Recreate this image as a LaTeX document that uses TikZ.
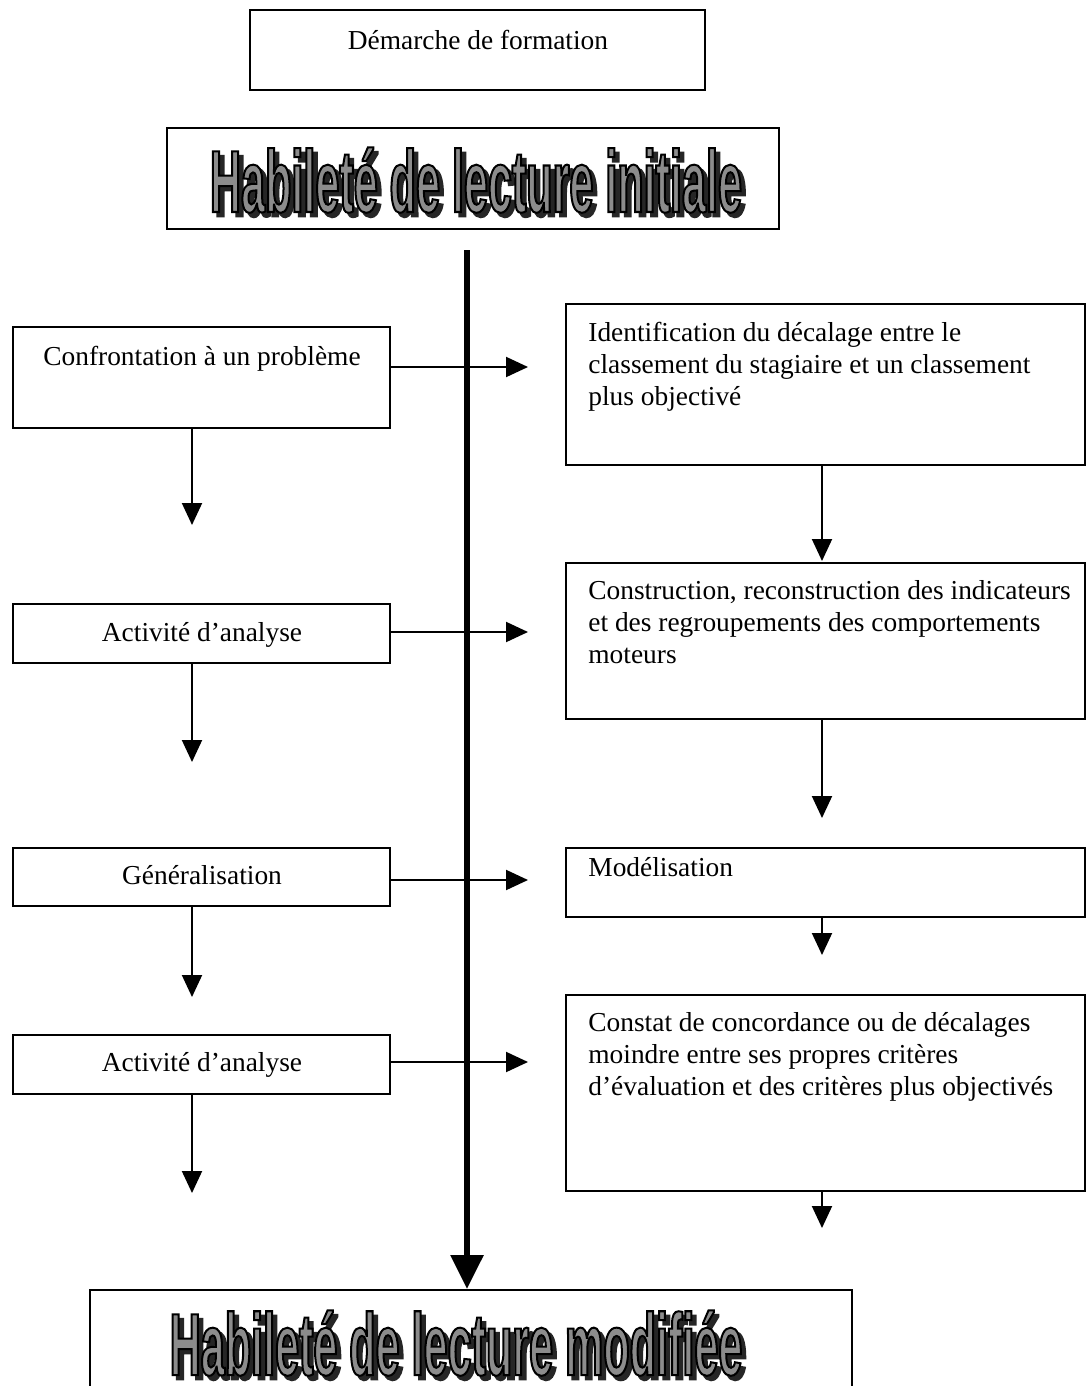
\documentclass[tikz,border=0pt]{standalone}
\usepackage{fontspec}
\setmainfont{Liberation Serif}
\newfontfamily\wafont{Liberation Sans}[FakeStretch=0.49]
\usetikzlibrary{arrows.meta,fit}

\newcommand{\waT}[1]{{\wafont\bfseries\fontsize{44}{44}\selectfont #1}}
\newcommand{\wordart}[1]{%
\makebox[0pt][l]{\hspace*{2.2pt}\raisebox{-2.2pt}{\textcolor{black!85}{\special{pdf:literal direct 2 Tr 1 w}\waT{#1}\special{pdf:literal direct 0 Tr}}}}%
\textcolor{black!45}{\special{pdf:literal direct 0 G 2 Tr 1 w}\waT{#1}\special{pdf:literal direct 0 Tr}}}

\tikzset{
  box/.style={draw, line width=1pt, inner sep=0pt, rectangle},
  txt/.style={font=\fontsize{13.7}{16}\selectfont, inner sep=0pt},
  rtxt/.style={txt, align=left, anchor=north west},
  arr/.style={line width=1pt, -{Triangle[length=11pt,width=10pt]}},
  bigarr/.style={line width=3pt, -{Triangle[length=17pt,width=16pt]}},
  wa/.style={inner sep=0pt, anchor=base},
}

\begin{document}
\begin{tikzpicture}[x=0.5pt,y=-0.5pt]
\clip (0,0) rectangle (1086,1386);
\fill[white] (0,0) rectangle (1086,1386);

% top boxes
\node[box, fit={(250,10) (705,90)}] (D) {};
\node[txt, anchor=mid] (Dt) at (478,45) {Démarche de formation};
\node[box, fit={(167,128) (779,229)}] (HI) {};
\node[wa] (HIt) at (476,212) {\wordart{Habileté de lecture initiale}};

% left boxes
\node[box, fit={(13,327) (390,428)}] (L1) {};
\node[txt, anchor=mid] (L1t) at (202,361) {Confrontation à un problème};
\node[box, fit={(13,604) (390,663)}] (L2) {};
\node[txt, anchor=mid] (L2t) at (202,637) {Activité d’analyse};
\node[box, fit={(13,848) (390,906)}] (L3) {};
\node[txt, anchor=mid] (L3t) at (202,880) {Généralisation};
\node[box, fit={(13,1035) (390,1094)}] (L4) {};
\node[txt, anchor=mid] (L4t) at (202,1067) {Activité d’analyse};

% right boxes
\node[box, fit={(566,304) (1085,465)}] (R1) {};
\node[rtxt] (R1t) at (588,322) {Identification du décalage entre le\\classement du stagiaire et un classement\\plus objectivé};
\node[box, fit={(566,563) (1085,719)}] (R2) {};
\node[rtxt] (R2t) at (588,580) {Construction, reconstruction des indicateurs\\et des regroupements des comportements\\moteurs};
\node[box, fit={(566,848) (1085,917)}] (R3) {};
\node[rtxt] (R3t) at (588,857) {Modélisation};
\node[box, fit={(566,995) (1085,1191)}] (R4) {};
\node[rtxt] (R4t) at (588,1012) {Constat de concordance ou de décalages\\moindre entre ses propres critères\\d’évaluation et des critères plus objectivés};

% bottom box
\node[box, fit={(90,1290) (852,1420)}] (HM) {};
\node[wa] (HMt) at (456,1375) {\wordart{Habileté de lecture modifiée}};

% horizontal arrows
\coordinate (h1) at (528,367);
\coordinate (h2) at (528,632);
\coordinate (h3) at (528,880);
\coordinate (h4) at (528,1062);
\draw[arr] (h1 -| L1.east) -- (h1);
\draw[arr] (h2 -| L2.east) -- (h2);
\draw[arr] (h3 -| L3.east) -- (h3);
\draw[arr] (h4 -| L4.east) -- (h4);

% left down arrows
\coordinate (d1) at (192,525);
\coordinate (d2) at (192,762);
\coordinate (d3) at (192,997);
\coordinate (d4) at (192,1193);
\draw[arr] (d1 |- L1.south) -- (d1);
\draw[arr] (d2 |- L2.south) -- (d2);
\draw[arr] (d3 |- L3.south) -- (d3);
\draw[arr] (d4 |- L4.south) -- (d4);

% right down arrows
\coordinate (e1) at (822,561);
\coordinate (e2) at (822,818);
\coordinate (e3) at (822,955);
\coordinate (e4) at (822,1228);
\draw[arr] (e1 |- R1.south) -- (e1);
\draw[arr] (e2 |- R2.south) -- (e2);
\draw[arr] (e3 |- R3.south) -- (e3);
\draw[arr] (e4 |- R4.south) -- (e4);

% main thick arrow
\coordinate (vtop) at (467,250);
\draw[bigarr] (vtop) -- (vtop |- HM.north);
\end{tikzpicture}
\end{document}
